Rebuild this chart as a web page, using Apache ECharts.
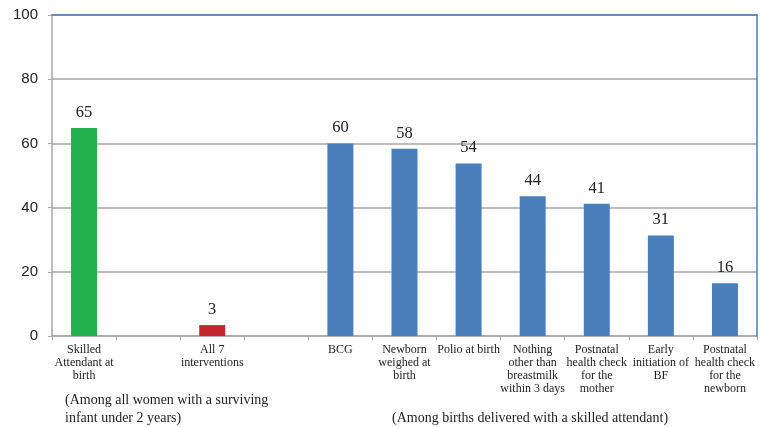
<!DOCTYPE html>
<html>
<head>
<meta charset="utf-8">
<script src="https://cdn.jsdelivr.net/npm/echarts@6/dist/echarts.min.js"></script>
<style>html,body{margin:0;padding:0;background:#fff}#c{width:760px;height:427px}</style>
</head>
<body>
<div id="c"></div>
<script>
const categories = ['Skilled\nAttendant at\nbirth', '', 'All 7\ninterventions', '', 'BCG', 'Newborn\nweighed at\nbirth', 'Polio at birth', 'Nothing\nother than\nbreastmilk\nwithin 3 days', 'Postnatal\nhealth check\nfor the\nmother', 'Early\ninitiation of\nBF', 'Postnatal\nhealth check\nfor the\nnewborn'];
const values = [64.8, null, 3.4, null, 60, 58.3, 53.7, 43.5, 41.2, 31.3, 16.4];
const yTicks = [0, 20, 40, 60, 80, 100];
const noteLeft = '(Among all women with a surviving\ninfant under 2 years)';
const noteRight = '(Among births delivered with a skilled attendant)';

const GREEN = '#22b14c', RED = '#c1272d', BLUE = '#4a7ebb', GRAY = '#a6a6a6';
const chart = echarts.init(document.getElementById('c'));
chart.setOption({
  animation: false,
  grid: { left: 52, right: 3, top: 15, bottom: 91 },
  xAxis: [{
    type: 'category', data: categories,
    axisLine: { lineStyle: { color: GRAY, width: 1.5 } },
    axisTick: { show: true, interval: 0, length: 4, lineStyle: { color: GRAY } },
    axisLabel: { interval: 0, margin: 7, fontFamily: 'Liberation Serif', fontSize: 12, lineHeight: 13, color: '#222' }
  }, {
    type: 'category', position: 'top', data: categories, z: 5,
    axisLine: { show: true, onZero: false, lineStyle: { color: BLUE, width: 1.5 } },
    axisTick: { show: false }, axisLabel: { show: false }
  }],
  yAxis: [{
    type: 'value', min: yTicks[0], max: yTicks[yTicks.length - 1], interval: 20,
    axisLine: { show: true, lineStyle: { color: GRAY, width: 1.5 } },
    axisTick: { show: true, length: 4, lineStyle: { color: GRAY } },
    axisLabel: { margin: 14, fontFamily: 'Liberation Sans', fontSize: 15, color: '#222' },
    splitLine: { lineStyle: { color: GRAY, width: 1.5 } }
  }, {
    type: 'value', position: 'right', min: 0, max: 100, interval: 20, z: 5,
    axisLine: { show: true, onZero: false, lineStyle: { color: BLUE, width: 1.5 } },
    axisTick: { show: false }, axisLabel: { show: false }, splitLine: { show: false }
  }],
  series: [{
    type: 'bar', data: values, barWidth: 26,
    itemStyle: { color: p => p.dataIndex === 0 ? GREEN : (p.dataIndex === 2 ? RED : BLUE) },
    label: { show: true, position: 'top', distance: 7, fontFamily: 'Liberation Serif', fontSize: 16.5, color: '#222',
      formatter: p => Math.round(p.value) }
  }],
  graphic: [
    { type: 'text', left: 65, top: 391, style: { text: noteLeft, fontFamily: 'Liberation Serif', fontSize: 14, lineHeight: 18, fill: '#222' } },
    { type: 'text', left: 392, top: 409, style: { text: noteRight, fontFamily: 'Liberation Serif', fontSize: 14, lineHeight: 18, fill: '#222' } }
  ]
});
</script>
</body>
</html>
